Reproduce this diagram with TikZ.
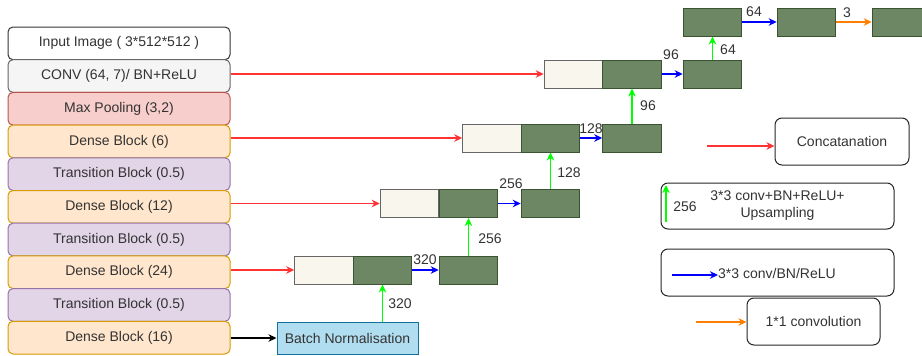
\documentclass[tikz,border=0pt]{standalone}
\usepackage{fontspec}
\setmainfont{Liberation Sans}
\usetikzlibrary{arrows.meta}
\definecolor{txt}{HTML}{333333}
\definecolor{convfill}{HTML}{F5F5F5}\definecolor{convline}{HTML}{666666}
\definecolor{poolfill}{HTML}{F8CECC}\definecolor{poolline}{HTML}{B85450}
\definecolor{densefill}{HTML}{FFE6CC}\definecolor{denseline}{HTML}{D79B00}
\definecolor{transfill}{HTML}{E1D5E7}\definecolor{transline}{HTML}{9673A6}
\definecolor{bnfill}{HTML}{B1DDF0}\definecolor{bnline}{HTML}{10739E}
\definecolor{darkfill}{HTML}{6D8764}\definecolor{darkline}{HTML}{3A5431}
\definecolor{lightfill}{HTML}{F9F7ED}
\definecolor{redl}{HTML}{FF3333}\definecolor{greenl}{HTML}{00FF00}
\definecolor{bluel}{HTML}{0000FF}\definecolor{orangel}{HTML}{FF8000}
\tikzset{
  f/.style={font=\fontsize{14}{17}\selectfont, text=txt},
  row/.style={f, draw, line width=1pt, rounded corners=5pt, minimum width=222pt, minimum height=32.7pt, inner sep=0pt},
  inrow/.style={row, fill=white, draw=black!80},
  convrow/.style={row, fill=convfill, draw=convline},
  poolrow/.style={row, fill=poolfill, draw=poolline},
  denserow/.style={row, fill=densefill, draw=denseline},
  transrow/.style={row, fill=transfill, draw=transline},
  dark/.style={draw=darkline, fill=darkfill, line width=1pt, minimum width=58.5pt, minimum height=28pt, inner sep=0pt},
  light/.style={draw=convline, fill=lightfill, line width=1pt, minimum width=58.5pt, minimum height=28pt, inner sep=0pt},
  legbox/.style={f, draw=black!85, line width=1pt, rounded corners=7pt, inner sep=0pt, align=center},
  lab/.style={f, inner sep=0pt},
  tip/.style={-{Stealth[length=8pt,width=7.5pt,inset=2.5pt]}, line width=1.2pt},
  rarr/.style={tip, draw=redl},
  garr/.style={tip, draw=greenl},
  barr/.style={tip, draw=bluel},
  oarr/.style={tip, draw=orangel},
  karr/.style={tip, draw=black},
}
\begin{document}
\begin{tikzpicture}[x=1pt,y=-1pt]
\useasboundingbox (0,0) rectangle (922,356);
\clip (0,0) rectangle (922,356);
% left stack
\node[inrow]    (in)  at (119,43.35)  {Input Image ( 3*512*512 )};
\node[convrow]  (conv) at (119,76.05) {CONV (64, 7)/ BN+ReLU};
\node[poolrow]  (pool) at (119,108.75) {Max Pooling (3,2)};
\node[denserow] (d6)  at (119,141.45) {Dense Block (6)};
\node[transrow] (t1)  at (119,174.15) {Transition Block (0.5)};
\node[denserow] (d12) at (119,206.85) {Dense Block (12)};
\node[transrow] (t2)  at (119,239.55) {Transition Block (0.5)};
\node[denserow] (d24) at (119,272.25) {Dense Block (24)};
\node[transrow] (t3)  at (119,304.95) {Transition Block (0.5)};
\node[denserow] (d16) at (119,337.65) {Dense Block (16)};
% batch norm
\node[f, draw=bnline, fill=bnfill, line width=1pt, minimum width=141pt, minimum height=32pt, inner sep=0pt] (bn) at (347.5,338) {Batch Normalisation};
% level 1
\node[light] (c1l) at (324,270) {};
\node[dark]  (c1d) at (382.5,270) {};
\node[dark]  (r1)  at (468.5,270) {};
% level 2
\node[light] (c2l) at (409.5,203.5) {};
\node[dark]  (c2d) at (468.5,203.5) {};
\node[dark]  (r2)  at (550.5,203.5) {};
% level 3
\node[light] (c3l) at (492,138) {};
\node[dark]  (c3d) at (550.5,138) {};
\node[dark]  (r3)  at (632,138) {};
% level 4
\node[light] (c4l) at (573.5,74) {};
\node[dark]  (c4d) at (632,74) {};
\node[dark]  (r4)  at (712.5,74) {};
% top row
\node[dark] (ta) at (712.5,22) {};
\node[dark] (tb) at (806.5,22) {};
\node[dark] (tc) at (901.5,22) {};
% red skip connections
\draw[rarr] (conv.east |- c4l.west) -- (c4l.west);
\draw[rarr] (d6.east |- c3l.west) -- (c3l.west);
\draw[rarr] (d12.east |- c2l.west) -- (c2l.west);
\draw[rarr] (d24.east |- c1l.west) -- (c1l.west);
% black
\draw[karr] (d16.east |- bn.west) -- (bn.west);
% green up
\draw[garr] (c1d.south |- bn.north) -- (c1d.south);
\draw[garr] (r1.north) -- (c2d.south);
\draw[garr] (r2.north) -- (c3d.south);
\draw[garr] (r3.north) -- (c4d.south);
\draw[garr] (r4.north) -- (ta.south);
% blue
\draw[barr] (c1d.east) -- (r1.west);
\draw[barr] (c2d.east) -- (r2.west);
\draw[barr] (c3d.east) -- (r3.west);
\draw[barr] (c4d.east) -- (r4.west);
\draw[barr] (ta.east) -- (tb.west);
\draw[oarr] (tb.east) -- (tc.west);
% labels
\node[lab] (l320a) at (400,304) {320};
\node[lab] (l320b) at (425,260) {320};
\node[lab] (l256a) at (490,239) {256};
\node[lab] (l256b) at (511,184) {256};
\node[lab] (l128a) at (569,173) {128};
\node[lab] (l128b) at (591,128.5) {128};
\node[lab] (l96a)  at (648,106) {96};
\node[lab] (l96b)  at (671,55) {96};
\node[lab] (l64a)  at (728,50) {64};
\node[lab] (l64b)  at (754,12) {64};
\node[lab] (l3)    at (847,13) {3};
% legend
\node[legbox, minimum width=134pt, minimum height=47pt] (lg1) at (842,141.5) {Concatanation};
\coordinate (lg1s) at (707,146);
\draw[rarr] (lg1s) -- (lg1.west |- lg1s);
\node[legbox, minimum width=233pt, minimum height=46pt] (lg2) at (777.5,206) {3*3 conv+BN+ReLU+\\Upsampling};
\coordinate (lg2s) at (666,222);
\coordinate (lg2e) at (666,185);
\draw[garr] (lg2s) -- (lg2e);
\node[lab] (lg2l) at (685,207) {256};
\node[legbox, minimum width=233pt, minimum height=47pt] (lg3) at (777.5,272.5) {};
\node[lab, anchor=west] (lg3t) at (718,273) {3*3 conv/BN/ReLU};
\coordinate (lg3s) at (672,275);
\draw[barr] (lg3s) -- (lg3t.west |- lg3s);
\node[legbox, minimum width=133pt, minimum height=47pt] (lg4) at (813.5,321.5) {1*1 convolution};
\coordinate (lg4s) at (696,322);
\draw[oarr] (lg4s) -- (lg4.west |- lg4s);
\end{tikzpicture}
\end{document}
